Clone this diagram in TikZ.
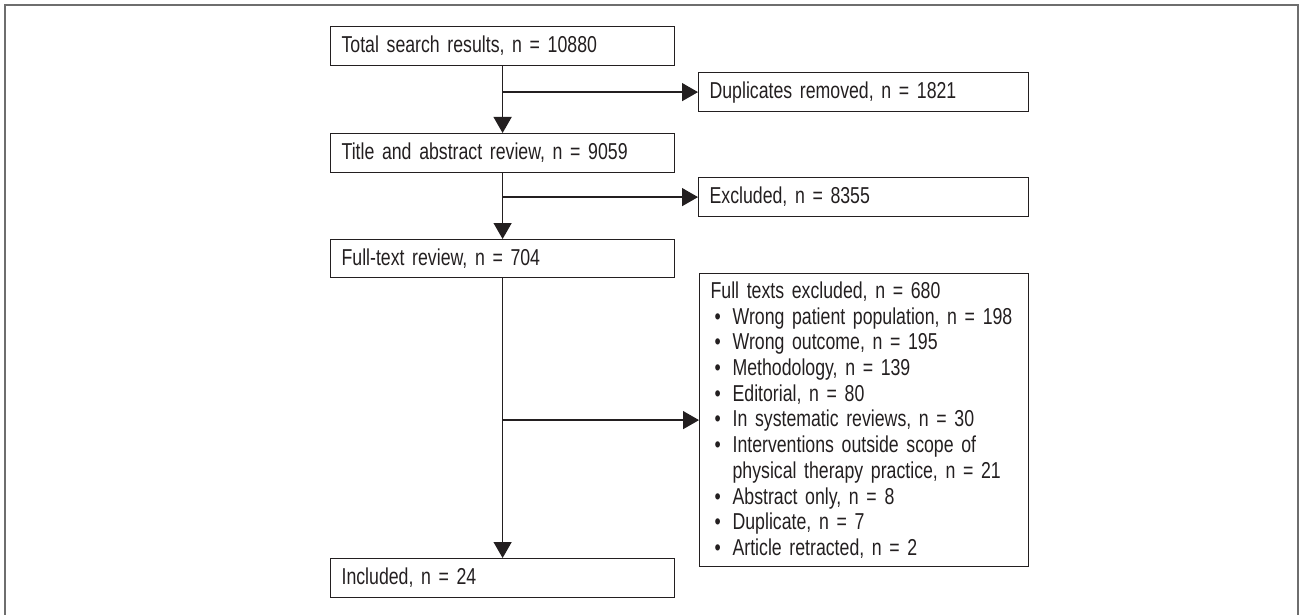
\documentclass[tikz,border=0pt]{standalone}
\usepackage{fontspec}
\setmainfont{Liberation Sans}[FakeStretch=0.77,WordSpace=0.8]
\usepackage{xcolor}
\usetikzlibrary{arrows.meta}

\definecolor{inkgray}{HTML}{231F20}
\definecolor{framegray}{HTML}{6E6E6E}
\newcommand{\bul}{\makebox[22pt][l]{\hspace{4pt}\textbullet}}

\begin{document}
\begin{tikzpicture}[x=1pt,y=-1pt,
  box/.style={draw=inkgray,line width=1.2pt,rectangle,anchor=north west,
    minimum height=39pt,inner xsep=11pt,inner ysep=0pt,align=left,
    font=\fontsize{23}{25.7}\selectfont,text=inkgray},
  conn/.style={draw=inkgray,line width=1.4pt,-{Triangle[length=16pt,width=18pt]}}]
\useasboundingbox (0,0) rectangle (1303,615);
\draw[framegray,line width=1.8pt] (5,625) -- (5,5) -- (1298,5) -- (1298,625);
% main column
\node[box,text width=322pt] (total) at (330,26) {Total search results, n = 10880};
\node[box,text width=322pt] (title) at (330,133) {Title and abstract review, n = 9059};
\node[box,text width=322pt,minimum height=38pt] (fullrev) at (330,239) {Full-text review, n = 704};
\node[box,text width=322pt] (incl) at (330,558) {Included, n = 24};
% side column
\node[box,text width=308pt] (dup) at (698,72) {Duplicates removed, n = 1821};
\node[box,text width=308pt] (excl) at (698,177) {Excluded, n = 8355};
\node[box,text width=307pt,minimum height=293pt] (fullexc) at (699,273) {Full texts excluded, n = 680\\
  \bul Wrong patient population, n = 198\\
  \bul Wrong outcome, n = 195\\
  \bul Methodology, n = 139\\
  \bul Editorial, n = 80\\
  \bul In systematic reviews, n = 30\\
  \bul Interventions outside scope of\\
  \hspace*{22pt}physical therapy practice, n = 21\\
  \bul Abstract only, n = 8\\
  \bul Duplicate, n = 7\\
  \bul Article retracted, n = 2};
\foreach \a/\b/\c in {total/title/dup,title/fullrev/excl,fullrev/incl/fullexc}
{ \draw[conn] (\a.south) -- (\b.north);
  \draw[conn] (\a.south |- \c.west) -- (\c.west); }
\end{tikzpicture}
\end{document}
